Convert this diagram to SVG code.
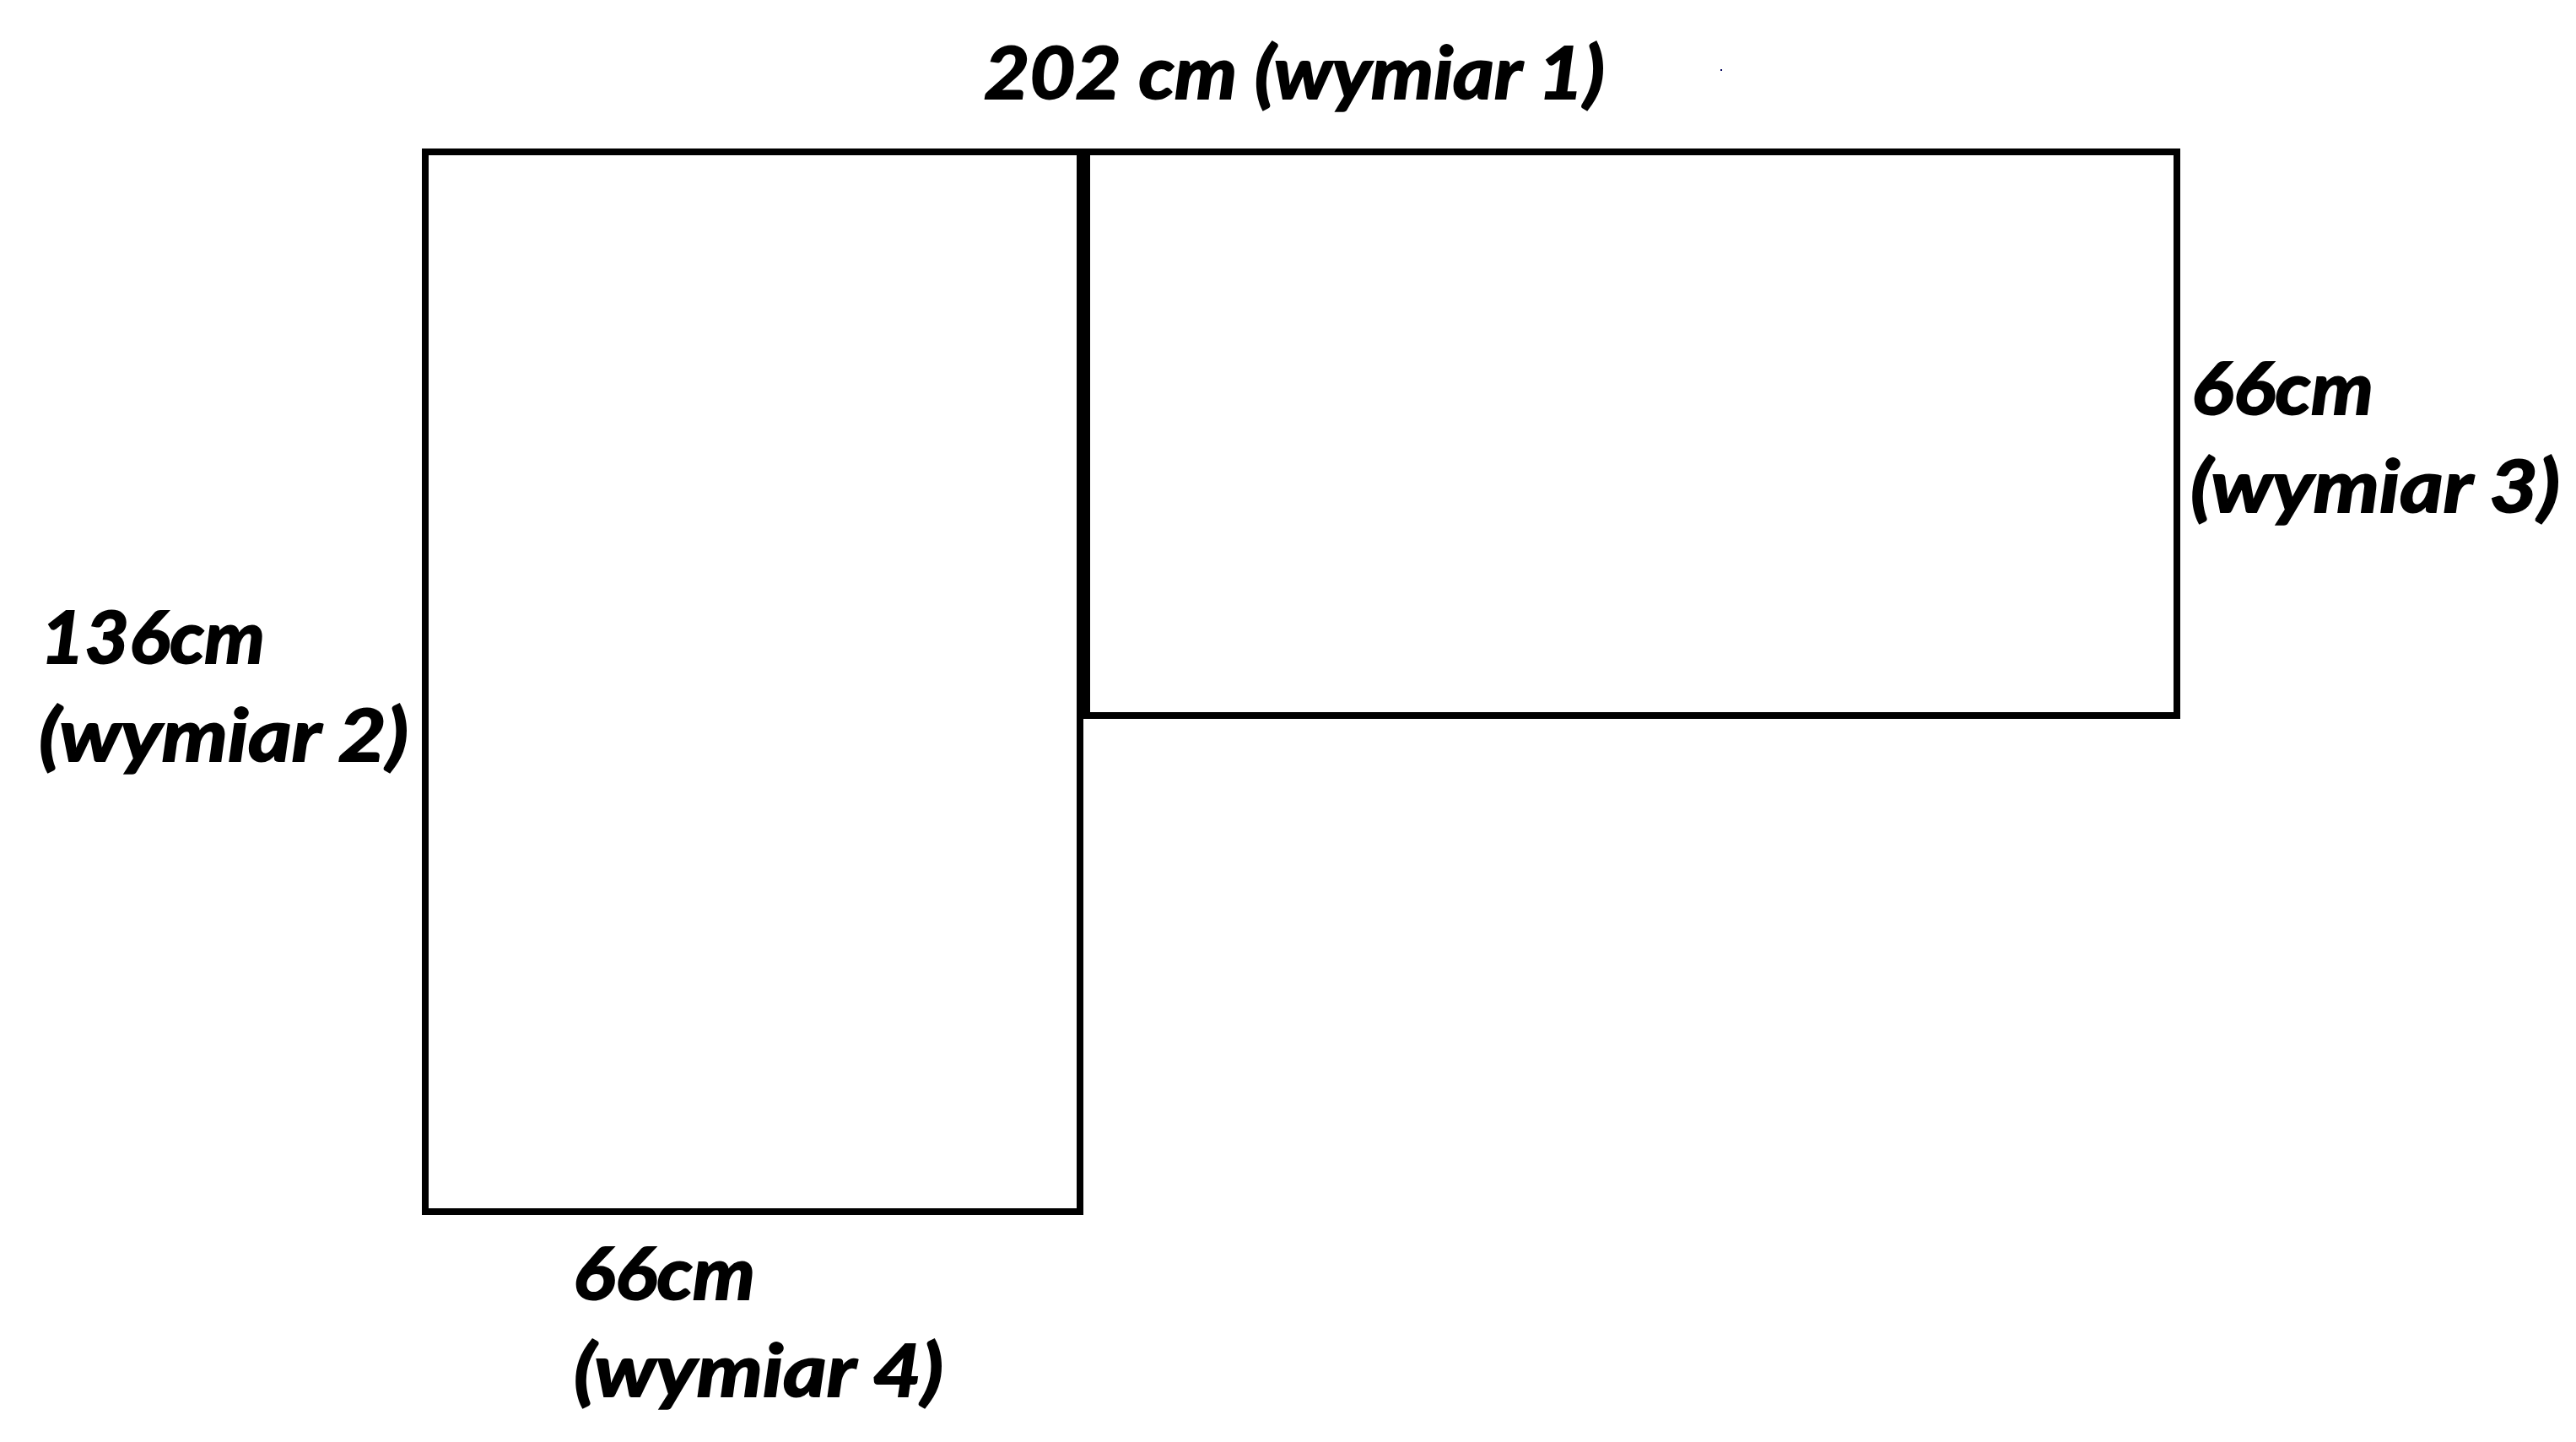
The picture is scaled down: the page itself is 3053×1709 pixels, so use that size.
<svg xmlns="http://www.w3.org/2000/svg" width="3053" height="1709" viewBox="0 0 3053 1709">
<style>
.box{fill:none;stroke:#000;stroke-width:8}
.lbl{font-family:Lato,"Liberation Sans",sans-serif;font-weight:bold;font-style:italic;font-size:86px;fill:#000;stroke:#000;stroke-width:2}
</style>
<rect x="0" y="0" width="3053" height="1709" fill="#fff"/>
<g id="left-panel">
<rect class="box" x="504" y="180" width="776" height="1256"/>
</g>
<g id="right-panel">
<rect class="box" x="1288" y="180" width="1292" height="668"/>
</g>
<g id="labels">
<text class="lbl" x="1166" y="117" textLength="736" lengthAdjust="spacingAndGlyphs">202 cm (wymiar 1)</text>
<text class="lbl" x="48" y="786" textLength="266" lengthAdjust="spacingAndGlyphs">136cm</text>
<text class="lbl" x="46" y="902" textLength="438" lengthAdjust="spacingAndGlyphs">(wymiar 2)</text>
<text class="lbl" x="2597" y="491" textLength="216" lengthAdjust="spacingAndGlyphs">66cm</text>
<text class="lbl" x="2596" y="607" textLength="438" lengthAdjust="spacingAndGlyphs">(wymiar 3)</text>
<text class="lbl" x="679" y="1540" textLength="216" lengthAdjust="spacingAndGlyphs">66cm</text>
<text class="lbl" x="680" y="1655" textLength="438" lengthAdjust="spacingAndGlyphs">(wymiar 4)</text>
</g>
<rect x="2039" y="82" width="2" height="2" fill="#00005a"/>
</svg>
